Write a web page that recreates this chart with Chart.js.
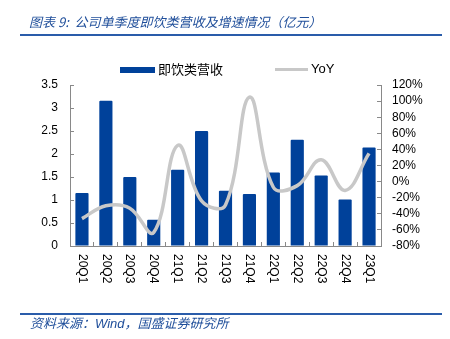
<!DOCTYPE html>
<html>
<head>
<meta charset="utf-8">
<script src="https://cdn.jsdelivr.net/npm/chart.js@4/dist/chart.umd.min.js"></script>
<style>
    body { margin: 0; background: #fff; }
    #wrap { position: relative; width: 450px; height: 339px; overflow: hidden; }
    #wrap canvas { position: absolute; left: 0; top: 0; }
    .cap { position: absolute; font-family: "Noto Sans CJK SC", sans-serif; font-style: italic; color: #1F4E9A; font-size: 13px; white-space: nowrap; }
    .rule { position: absolute; left: 20px; width: 422px; height: 2px; background: #2A5CAA; }
    #legend { position: absolute; top: 60px; left: 0; width: 450px; height: 18px; font-size: 13px; color: #000; }
    .lg { position: absolute; top: 0; height: 18px; line-height: 18px; white-space: nowrap; }
    .lg i { position: absolute; display: block; }
</style>
</head>
<body>
<div id="wrap">
    <canvas id="MainChart" width="450" height="339"></canvas>
    <div class="cap" style="left:29px; top:12px;">图表 9:&nbsp; 公司单季度即饮类营收及增速情况（亿元）</div>
    <div class="rule" style="top:34px;"></div>
    <div id="legend"></div>
    <div class="rule" style="top:313px;"></div>
    <div class="cap" style="left:30px; top:313px;">资料来源：<span style="font-family:'Liberation Sans';">Wind</span>，国盛证券研究所</div>
</div>
<script>
// 季度
var quarters = ['20Q1', '20Q2', '20Q3', '20Q4', '21Q1', '21Q2', '21Q3', '21Q4', '22Q1', '22Q2', '22Q3', '22Q4', '23Q1'];
// 即饮类营收（亿元）
var revenue = [1.15, 3.16, 1.50, 0.57, 1.66, 2.50, 1.20, 1.13, 1.60, 2.31, 1.53, 1.01, 2.14];
// YoY (%)
var yoy = [-46, -30, -33, -63, 45, -24, -29, 105, -7, -5, 27, -11, 35];
var leftTicks = [0, 0.5, 1, 1.5, 2, 2.5, 3, 3.5];
var rightTicks = [-80, -60, -40, -20, 0, 20, 40, 60, 80, 100, 120];

var tickFont = { family: 'Liberation Sans', size: 12 };

// x labels read top to bottom, so draw them here
const xLabels = {
    id: 'xLabels',
    afterDraw(chart) {
        var ctx = chart.ctx;
        var xs = chart.scales.x;
        ctx.save();
        ctx.font = '12px "Liberation Sans"';
        ctx.fillStyle = '#000';
        ctx.textAlign = 'left';
        ctx.textBaseline = 'middle';
        for (var i = 0; i < quarters.length; i++) {
            ctx.save();
            ctx.translate(xs.getPixelForTick(i), xs.top + 8);
            ctx.rotate(Math.PI / 2);
            ctx.fillText(quarters[i], 0, 0);
            ctx.restore();
        }
        ctx.restore();
    }
};

var chart = new Chart(document.getElementById('MainChart'), {
    data: {
        labels: quarters,
        datasets: [
            {
                type: 'line',
                label: 'YoY',
                data: yoy,
                yAxisID: 'y1',
                borderColor: '#C8C8C8',
                backgroundColor: '#C8C8C8',
                borderWidth: 3.5,
                pointRadius: 0,
                tension: 0.4,
                order: 0
            },
            {
                type: 'bar',
                label: '即饮类营收',
                data: revenue,
                yAxisID: 'y',
                backgroundColor: '#00419A',
                barPercentage: 0.55,
                categoryPercentage: 1,
                borderRadius: 1,
                order: 1
            }
        ]
    },
    options: {
        responsive: false,
        devicePixelRatio: 1,
        animation: false,
        layout: { padding: { top: 85, left: 0, right: 0, bottom: 0 } },
        plugins: {
            legend: { display: false },
            tooltip: { enabled: false }
        },
        scales: {
            x: {
                offset: true,
                ticks: { display: false },
                grid: { drawOnChartArea: false, tickLength: -4, color: '#898989' },
                border: { color: '#898989' },
                afterFit: function (s) { s.height = 93; }
            },
            y: {
                position: 'left',
                min: 0,
                max: 3.5,
                afterBuildTicks: function (s) { s.ticks = leftTicks.map(v => ({ value: v })); },
                ticks: { font: tickFont, color: '#000', padding: 16, autoSkip: false, callback: v => String(v) },
                grid: { drawOnChartArea: false, tickLength: -4, color: '#898989' },
                border: { color: '#898989' },
                afterFit: function (s) { s.width = 70; }
            },
            y1: {
                position: 'right',
                min: -80,
                max: 120,
                afterBuildTicks: function (s) { s.ticks = rightTicks.map(v => ({ value: v })); },
                ticks: { font: tickFont, color: '#000', padding: 15, autoSkip: false, callback: v => v + '%' },
                grid: { drawOnChartArea: false, tickLength: -4, color: '#898989' },
                border: { color: '#898989' },
                afterFit: function (s) { s.width = 69; }
            }
        }
    },
    plugins: [xLabels]
});

// legend from the datasets
var lg = document.getElementById('legend');
var bar = chart.data.datasets[1], line = chart.data.datasets[0];
lg.innerHTML =
    '<div class="lg" style="left:120px;"><i style="left:0;top:7px;width:35px;height:6px;background:' + bar.backgroundColor + ';"></i>' +
    '<span style="position:absolute;left:38px;font-family:\'Noto Sans CJK SC\';">' + bar.label + '</span></div>' +
    '<div class="lg" style="left:275px;"><i style="left:0;top:8px;width:33px;height:3px;background:' + line.borderColor + ';"></i>' +
    '<span style="position:absolute;left:36px;font-family:\'Liberation Sans\';">' + line.label + '</span></div>';
</script>
</body>
</html>
